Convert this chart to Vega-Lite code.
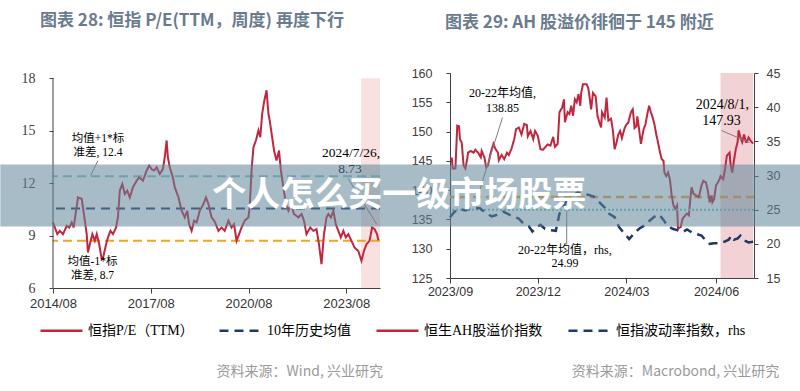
{
 "$schema": "https://vega.github.io/schema/vega-lite/v6.json",
 "background": "white",
 "padding": {"left": 0, "right": 0, "top": 12, "bottom": 0},
 "spacing": 70,
 "bounds": "flush",
 "config": {
  "view": {"stroke": null},
  "font": "Noto Sans CJK SC",
  "axis": {"grid": false, "domainColor": "#404040", "tickColor": "#404040", "labelColor": "#404040", "labelOverlap": false, "labelBound": false},
  "axisY": {"labelOverlap": false},
  "axisLeft": {"labelOverlap": false},
  "axisRight": {"labelOverlap": false},
  "axisQuantitative": {"labelOverlap": false}
 },
 "datasets": {
  "pe": [
   {"d":"2014-08-01","v":9.75},{"d":"2014-08-22","v":9.46},{"d":"2014-09-19","v":9.08},{"d":"2014-10-17","v":9.27},{"d":"2014-11-21","v":9.08},
   {"d":"2015-01-02","v":9.56},{"d":"2015-01-30","v":9.46},{"d":"2015-02-27","v":9.75},{"d":"2015-03-20","v":9.46},{"d":"2015-04-17","v":10.42},
   {"d":"2015-05-08","v":11.18},{"d":"2015-06-19","v":11.10},{"d":"2015-07-03","v":10.60},{"d":"2015-07-24","v":9.85},{"d":"2015-08-14","v":9.08},
   {"d":"2015-08-28","v":8.03},{"d":"2015-09-18","v":8.50},{"d":"2015-10-16","v":9.08},{"d":"2015-11-13","v":8.70},{"d":"2015-12-04","v":9.08},
   {"d":"2016-01-01","v":8.50},{"d":"2016-01-29","v":7.65},{"d":"2016-02-12","v":7.70},{"d":"2016-03-18","v":8.50},{"d":"2016-04-08","v":8.89},
   {"d":"2016-05-06","v":9.27},{"d":"2016-06-03","v":9.08},{"d":"2016-07-08","v":9.46},{"d":"2016-07-29","v":10.04},{"d":"2016-08-19","v":11.57},
   {"d":"2016-09-16","v":11.95},{"d":"2016-10-14","v":11.38},{"d":"2016-11-11","v":11.57},{"d":"2016-12-09","v":11.18},{"d":"2017-01-13","v":11.76},
   {"d":"2017-02-24","v":12.14},{"d":"2017-03-24","v":12.33},{"d":"2017-05-05","v":12.14},{"d":"2017-06-16","v":12.72},{"d":"2017-07-14","v":13.00},
   {"d":"2017-08-11","v":12.80},{"d":"2017-09-08","v":12.72},{"d":"2017-10-06","v":12.90},{"d":"2017-11-10","v":12.52},{"d":"2017-12-15","v":12.80},
   {"d":"2018-01-05","v":13.48},{"d":"2018-01-26","v":14.44},{"d":"2018-02-09","v":13.48},{"d":"2018-03-02","v":12.90},{"d":"2018-04-06","v":12.33},
   {"d":"2018-04-27","v":11.76},{"d":"2018-06-08","v":11.18},{"d":"2018-07-13","v":10.42},{"d":"2018-08-17","v":10.04},{"d":"2018-09-14","v":10.42},
   {"d":"2018-10-05","v":9.65},{"d":"2018-11-02","v":9.27},{"d":"2018-11-30","v":9.85},{"d":"2018-12-28","v":9.75},{"d":"2019-02-01","v":10.42},
   {"d":"2019-03-15","v":10.80},{"d":"2019-04-12","v":11.18},{"d":"2019-05-10","v":10.80},{"d":"2019-06-14","v":10.04},{"d":"2019-07-19","v":9.80},
   {"d":"2019-08-30","v":9.27},{"d":"2019-10-04","v":9.46},{"d":"2019-11-08","v":9.27},{"d":"2019-12-20","v":9.85},{"d":"2020-01-24","v":9.46},
   {"d":"2020-02-21","v":9.65},{"d":"2020-03-20","v":8.70},{"d":"2020-04-17","v":9.08},{"d":"2020-05-15","v":9.46},{"d":"2020-06-19","v":9.85},
   {"d":"2020-07-31","v":10.04},{"d":"2020-08-14","v":10.61},{"d":"2020-09-04","v":12.72},{"d":"2020-09-25","v":14.05},{"d":"2020-10-23","v":14.44},
   {"d":"2020-11-20","v":15.01},{"d":"2020-12-11","v":14.63},{"d":"2021-01-01","v":15.97},{"d":"2021-01-22","v":16.64},{"d":"2021-02-19","v":17.31},
   {"d":"2021-03-12","v":15.97},{"d":"2021-03-26","v":15.59},{"d":"2021-04-23","v":14.63},{"d":"2021-05-14","v":13.86},{"d":"2021-06-11","v":13.29},
   {"d":"2021-07-09","v":13.86},{"d":"2021-07-30","v":12.72},{"d":"2021-08-27","v":11.76},{"d":"2021-09-24","v":10.80},{"d":"2021-10-22","v":10.42},
   {"d":"2021-11-19","v":10.80},{"d":"2021-12-24","v":10.23},{"d":"2022-02-11","v":10.04},{"d":"2022-03-18","v":10.23},{"d":"2022-04-15","v":9.85},
   {"d":"2022-05-13","v":9.08},{"d":"2022-06-24","v":9.46},{"d":"2022-07-29","v":9.27},{"d":"2022-09-02","v":9.37},{"d":"2022-09-30","v":8.50},
   {"d":"2022-10-28","v":7.36},{"d":"2022-11-25","v":9.08},{"d":"2022-12-23","v":10.04},{"d":"2023-01-13","v":10.23},{"d":"2023-02-10","v":10.04},
   {"d":"2023-03-10","v":10.42},{"d":"2023-04-06","v":9.65},{"d":"2023-05-05","v":9.27},{"d":"2023-06-02","v":8.89},{"d":"2023-06-30","v":9.27},
   {"d":"2023-07-28","v":8.89},{"d":"2023-08-25","v":9.08},{"d":"2023-09-29","v":8.70},{"d":"2023-11-03","v":8.31},{"d":"2023-12-15","v":8.12},
   {"d":"2024-01-19","v":7.55},{"d":"2024-02-16","v":8.12},{"d":"2024-03-15","v":8.50},{"d":"2024-04-19","v":8.70},{"d":"2024-05-17","v":9.46},
   {"d":"2024-06-14","v":9.37},{"d":"2024-07-12","v":9.08},{"d":"2024-07-26","v":8.73}
  ],
  "annL": [
   {"d":"2015-12-18","v":14.52,"t":"均值+1*标","g":"s"},
   {"d":"2015-12-18","v":13.72,"t":"准差, 12.4","g":"s"},
   {"d":"2015-10-18","v":7.46,"t":"均值-1*标","g":"s"},
   {"d":"2015-10-18","v":6.66,"t":"准差, 8.7","g":"s"},
   {"d":"2023-09-24","v":13.74,"t":"2024/7/26,","g":"b"},
   {"d":"2023-09-12","v":12.82,"t":"8.73","g":"b"}
  ],
  "leadL": [
   {"d":"2015-12-18","v":13.29,"d2":"2015-09-28","v2":12.44},
   {"d":"2023-08-22","v":12.26,"d2":"2024-07-11","v2":9.63}
  ],
  "ah": [
   {"d":"2023-09-01","v":145.3},{"d":"2023-09-03","v":145.4},{"d":"2023-09-04","v":143.7},{"d":"2023-09-07","v":143.7},{"d":"2023-09-09","v":151.0},
   {"d":"2023-09-11","v":150.9},{"d":"2023-09-12","v":148.7},{"d":"2023-09-14","v":148.1},{"d":"2023-09-16","v":144.2},{"d":"2023-09-18","v":143.7},
   {"d":"2023-09-20","v":145.3},{"d":"2023-09-21","v":146.4},{"d":"2023-09-24","v":146.7},{"d":"2023-09-27","v":146.4},{"d":"2023-09-29","v":146.9},
   {"d":"2023-10-02","v":146.4},{"d":"2023-10-05","v":145.6},{"d":"2023-10-06","v":146.7},{"d":"2023-10-09","v":145.6},{"d":"2023-10-11","v":143.9},
   {"d":"2023-10-13","v":144.2},{"d":"2023-10-16","v":146.4},{"d":"2023-10-19","v":147.9},{"d":"2023-10-21","v":147.1},{"d":"2023-10-24","v":146.4},
   {"d":"2023-10-25","v":145.1},{"d":"2023-10-28","v":146.0},{"d":"2023-10-31","v":145.3},{"d":"2023-11-03","v":146.4},{"d":"2023-11-05","v":146.0},
   {"d":"2023-11-08","v":147.1},{"d":"2023-11-11","v":148.7},{"d":"2023-11-13","v":150.4},{"d":"2023-11-16","v":150.7},{"d":"2023-11-19","v":149.5},
   {"d":"2023-11-22","v":151.3},{"d":"2023-11-25","v":151.1},{"d":"2023-11-26","v":149.2},{"d":"2023-11-29","v":150.1},{"d":"2023-12-02","v":148.7},
   {"d":"2023-12-04","v":150.1},{"d":"2023-12-07","v":149.3},{"d":"2023-12-10","v":147.0},{"d":"2023-12-13","v":146.9},{"d":"2023-12-15","v":147.3},
   {"d":"2023-12-18","v":147.8},{"d":"2023-12-21","v":147.6},{"d":"2023-12-24","v":149.1},{"d":"2023-12-26","v":147.4},{"d":"2023-12-29","v":147.9},
   {"d":"2023-12-31","v":153.3},{"d":"2024-01-03","v":154.1},{"d":"2024-01-05","v":155.5},{"d":"2024-01-06","v":151.6},{"d":"2024-01-09","v":153.3},
   {"d":"2024-01-11","v":153.0},{"d":"2024-01-13","v":154.4},{"d":"2024-01-15","v":152.7},{"d":"2024-01-17","v":155.5},{"d":"2024-01-19","v":155.0},
   {"d":"2024-01-21","v":156.4},{"d":"2024-01-23","v":154.4},{"d":"2024-01-24","v":156.6},{"d":"2024-01-26","v":158.1},{"d":"2024-01-30","v":158.1},
   {"d":"2024-02-01","v":157.3},{"d":"2024-02-04","v":153.8},{"d":"2024-02-06","v":156.6},{"d":"2024-02-09","v":156.0},{"d":"2024-02-11","v":152.7},
   {"d":"2024-02-13","v":151.6},{"d":"2024-02-15","v":150.7},{"d":"2024-02-16","v":153.3},{"d":"2024-02-19","v":152.4},{"d":"2024-02-21","v":155.8},
   {"d":"2024-02-23","v":151.9},{"d":"2024-02-26","v":152.2},{"d":"2024-02-28","v":150.2},{"d":"2024-03-01","v":147.0},{"d":"2024-03-03","v":148.1},
   {"d":"2024-03-05","v":149.5},{"d":"2024-03-07","v":150.1},{"d":"2024-03-09","v":148.9},{"d":"2024-03-12","v":150.6},{"d":"2024-03-14","v":151.2},
   {"d":"2024-03-16","v":151.5},{"d":"2024-03-19","v":153.3},{"d":"2024-03-21","v":153.8},{"d":"2024-03-23","v":150.6},{"d":"2024-03-25","v":150.9},
   {"d":"2024-03-26","v":152.6},{"d":"2024-03-28","v":150.4},{"d":"2024-03-30","v":147.9},{"d":"2024-04-02","v":150.4},{"d":"2024-04-04","v":151.2},
   {"d":"2024-04-06","v":152.9},{"d":"2024-04-08","v":154.4},{"d":"2024-04-10","v":153.3},{"d":"2024-04-12","v":152.4},{"d":"2024-04-14","v":151.2},
   {"d":"2024-04-16","v":149.5},{"d":"2024-04-18","v":148.1},{"d":"2024-04-20","v":146.5},{"d":"2024-04-22","v":145.3},{"d":"2024-04-24","v":145.0},
   {"d":"2024-04-25","v":143.0},{"d":"2024-04-27","v":142.4},{"d":"2024-04-29","v":143.0},{"d":"2024-05-01","v":141.9},{"d":"2024-05-03","v":139.1},
   {"d":"2024-05-05","v":137.4},{"d":"2024-05-07","v":136.8},{"d":"2024-05-09","v":137.4},{"d":"2024-05-10","v":133.4},{"d":"2024-05-13","v":133.7},
   {"d":"2024-05-15","v":135.1},{"d":"2024-05-18","v":135.7},{"d":"2024-05-20","v":136.0},{"d":"2024-05-22","v":135.7},{"d":"2024-05-24","v":139.1},
   {"d":"2024-05-25","v":140.5},{"d":"2024-05-27","v":139.4},{"d":"2024-05-30","v":139.1},{"d":"2024-06-02","v":138.8},{"d":"2024-06-05","v":140.8},
   {"d":"2024-06-07","v":141.6},{"d":"2024-06-10","v":141.3},{"d":"2024-06-12","v":139.9},{"d":"2024-06-14","v":137.9},{"d":"2024-06-16","v":139.1},
   {"d":"2024-06-17","v":137.9},{"d":"2024-06-19","v":138.5},{"d":"2024-06-21","v":140.8},{"d":"2024-06-23","v":141.3},{"d":"2024-06-25","v":141.9},
   {"d":"2024-06-26","v":142.4},{"d":"2024-06-29","v":141.9},{"d":"2024-07-01","v":143.6},{"d":"2024-07-03","v":145.9},{"d":"2024-07-06","v":146.4},
   {"d":"2024-07-07","v":144.5},{"d":"2024-07-09","v":143.0},{"d":"2024-07-11","v":145.2},{"d":"2024-07-13","v":147.1},{"d":"2024-07-15","v":148.3},
   {"d":"2024-07-16","v":150.2},{"d":"2024-07-18","v":149.0},{"d":"2024-07-20","v":148.2},{"d":"2024-07-22","v":149.5},{"d":"2024-07-24","v":148.2},
   {"d":"2024-07-25","v":148.2},{"d":"2024-07-27","v":149.0},{"d":"2024-07-29","v":148.5},{"d":"2024-08-01","v":147.93}
  ],
  "vol": [
   {"d":"2023-09-01","v":23.9},{"d":"2023-09-06","v":24.7},{"d":"2023-09-12","v":25.1},{"d":"2023-09-18","v":24.9},{"d":"2023-09-25","v":25.3},
   {"d":"2023-10-04","v":25.2},{"d":"2023-10-10","v":24.6},{"d":"2023-10-17","v":24.0},{"d":"2023-10-24","v":24.3},{"d":"2023-10-30","v":24.7},
   {"d":"2023-11-05","v":24.3},{"d":"2023-11-10","v":24.0},{"d":"2023-11-16","v":23.7},{"d":"2023-11-21","v":23.0},{"d":"2023-11-27","v":22.6},
   {"d":"2023-12-01","v":21.8},{"d":"2023-12-06","v":22.5},{"d":"2023-12-10","v":22.8},{"d":"2023-12-15","v":22.2},{"d":"2023-12-21","v":22.0},
   {"d":"2023-12-27","v":21.9},{"d":"2023-12-31","v":24.4},{"d":"2024-01-05","v":25.6},{"d":"2024-01-09","v":26.5},{"d":"2024-01-15","v":27.1},
   {"d":"2024-01-20","v":27.5},{"d":"2024-01-26","v":27.4},{"d":"2024-01-31","v":27.2},{"d":"2024-02-07","v":26.9},{"d":"2024-02-13","v":26.1},
   {"d":"2024-02-19","v":25.3},{"d":"2024-02-24","v":24.4},{"d":"2024-03-01","v":23.9},{"d":"2024-03-06","v":22.4},{"d":"2024-03-12","v":21.5},
   {"d":"2024-03-17","v":20.7},{"d":"2024-03-23","v":21.6},{"d":"2024-03-28","v":22.2},{"d":"2024-04-03","v":22.7},{"d":"2024-04-08","v":23.3},
   {"d":"2024-04-14","v":24.0},{"d":"2024-04-19","v":24.3},{"d":"2024-04-24","v":23.5},{"d":"2024-04-28","v":22.7},{"d":"2024-05-04","v":22.2},
   {"d":"2024-05-09","v":22.0},{"d":"2024-05-15","v":21.7},{"d":"2024-05-20","v":22.1},{"d":"2024-05-26","v":21.6},{"d":"2024-05-31","v":21.4},
   {"d":"2024-06-05","v":21.2},{"d":"2024-06-09","v":20.6},{"d":"2024-06-14","v":20.0},{"d":"2024-06-19","v":20.1},{"d":"2024-06-25","v":20.1},
   {"d":"2024-06-30","v":20.3},{"d":"2024-07-05","v":20.6},{"d":"2024-07-08","v":21.2},{"d":"2024-07-11","v":20.6},{"d":"2024-07-15","v":20.8},
   {"d":"2024-07-18","v":21.2},{"d":"2024-07-22","v":20.5},{"d":"2024-07-27","v":20.2},{"d":"2024-08-01","v":20.3}
  ],
  "annR": [
   {"d":"2023-10-29","v":156.59,"t":"20-22年均值,","g":"s"},
   {"d":"2023-10-29","v":153.94,"t":"138.85","g":"s"},
   {"d":"2024-01-06","v":129.70,"t":"20-22年均值，rhs,","g":"s"},
   {"d":"2024-01-06","v":127.50,"t":"24.99","g":"s"},
   {"d":"2024-06-28","v":154.62,"t":"2024/8/1,","g":"b"},
   {"d":"2024-06-27","v":151.89,"t":"147.93","g":"b"}
  ],
  "leadR": [
   {"d":"2023-10-29","v":152.40,"d2":"2023-10-02","v2":139.08},
   {"d":"2024-01-08","v":130.70,"d2":"2024-01-08","v2":136.52},
   {"d":"2024-06-27","v":150.18,"d2":"2024-07-28","v2":148.13}
  ]
 },
 "hconcat": [
  {
   "width": 327,
   "height": 215,
   "title": {"text": "图表 28: 恒指 P/E(TTM，周度)  再度下行", "anchor": "start", "frame": "group", "dx": -13, "offset": 41, "fontSize": 17, "font": "Noto Sans CJK SC", "fontWeight": "bold", "color": "#6a7b8e"},
   "layer": [
    {"data": {"values": [{}]}, "mark": {"type": "rect", "fill": "#f9e0e1"},
     "encoding": {
      "x": {"datum": {"year": 2024, "month": 1, "date": 15}, "type": "temporal", "title": null, "scale": {"domain": [{"year": 2014, "month": 8, "date": 1}, {"year": 2024, "month": 8, "date": 14}], "nice": false}},
      "x2": {"datum": {"year": 2024, "month": 8, "date": 14}},
      "y": {"datum": 6, "type": "quantitative", "title": null, "scale": {"domain": [6, 18.3], "nice": false, "zero": false}},
      "y2": {"datum": 18}}},
    {"data": {"values": [{}]}, "mark": {"type": "rule", "stroke": "#7cc4cc", "strokeWidth": 2, "strokeDash": [9, 5]},
     "encoding": {"y": {"datum": 12.4, "type": "quantitative", "title": null, "scale": {"domain": [6, 18.3], "nice": false, "zero": false}}}},
    {"data": {"values": [{}]}, "mark": {"type": "rule", "stroke": "#eea52f", "strokeWidth": 2, "strokeDash": [9, 5]},
     "encoding": {"y": {"datum": 8.7, "type": "quantitative", "title": null, "scale": {"domain": [6, 18.3], "nice": false, "zero": false}}}},
    {"data": {"values": [{}]}, "mark": {"type": "rule", "strokeWidth": 2},
     "encoding": {
      "y": {"datum": 10.55, "type": "quantitative", "title": null, "scale": {"domain": [6, 18.3], "nice": false, "zero": false}},
      "color": {"datum": "10年历史均值", "type": "nominal", "scale": {"domain": ["恒指P/E（TTM）", "10年历史均值"], "range": ["#c0273e", "#1f3864"]},
        "legend": {"orient": "none", "legendX": -14, "legendY": 235, "direction": "horizontal", "title": null, "symbolType": "stroke", "symbolSize": 1764, "symbolStrokeWidth": 2.5, "labelFont": "Liberation Serif, Noto Sans CJK SC", "labelFontSize": 14, "labelColor": "#000000", "labelOffset": 4, "columnPadding": 20}},
      "strokeDash": {"datum": "10年历史均值", "type": "nominal", "scale": {"domain": ["恒指P/E（TTM）", "10年历史均值"], "range": [[1, 0], [9, 6]]},
        "legend": {"orient": "none", "legendX": -14, "legendY": 235, "direction": "horizontal", "title": null, "symbolType": "stroke", "symbolSize": 1764, "symbolStrokeWidth": 2.5, "labelFont": "Liberation Serif, Noto Sans CJK SC", "labelFontSize": 14, "labelColor": "#000000", "labelOffset": 4, "columnPadding": 20}}}},
    {"data": {"name": "pe"}, "mark": {"type": "line", "strokeWidth": 2},
     "encoding": {
      "x": {"field": "d", "type": "temporal", "title": null, "scale": {"domain": [{"year": 2014, "month": 8, "date": 1}, {"year": 2024, "month": 8, "date": 14}], "nice": false},
        "axis": {"values": [{"year": 2014, "month": 8, "date": 1}, {"year": 2017, "month": 8, "date": 1}, {"year": 2020, "month": 8, "date": 1}, {"year": 2023, "month": 8, "date": 1}], "format": "%Y/%m", "labelFont": "Liberation Sans", "labelFontSize": 13, "tickSize": 5, "labelPadding": 4, "labelFlush": false, "labelOverlap": false, "labelColor": "#333333"}},
      "y": {"field": "v", "type": "quantitative", "title": null, "scale": {"domain": [6, 18.3], "nice": false, "zero": false},
        "axis": {"values": [6, 9, 12, 15, 18], "domain": false, "labelFont": "Liberation Serif", "labelFontSize": 14, "tickSize": 4, "labelPadding": 14, "labelOverlap": false}},
      "color": {"datum": "恒指P/E（TTM）", "type": "nominal", "scale": {"domain": ["恒指P/E（TTM）", "10年历史均值"], "range": ["#c0273e", "#1f3864"]},
        "legend": {"orient": "none", "legendX": -14, "legendY": 235, "direction": "horizontal", "title": null, "symbolType": "stroke", "symbolSize": 1764, "symbolStrokeWidth": 2.5, "labelFont": "Liberation Serif, Noto Sans CJK SC", "labelFontSize": 14, "labelColor": "#000000", "labelOffset": 4, "columnPadding": 20}},
      "strokeDash": {"datum": "恒指P/E（TTM）", "type": "nominal", "scale": {"domain": ["恒指P/E（TTM）", "10年历史均值"], "range": [[1, 0], [9, 6]]},
        "legend": {"orient": "none", "legendX": -14, "legendY": 235, "direction": "horizontal", "title": null, "symbolType": "stroke", "symbolSize": 1764, "symbolStrokeWidth": 2.5, "labelFont": "Liberation Serif, Noto Sans CJK SC", "labelFontSize": 14, "labelColor": "#000000", "labelOffset": 4, "columnPadding": 20}}}},
    {"data": {"values": [{}]}, "mark": {"type": "rule", "stroke": "#404040", "strokeWidth": 1},
     "encoding": {
      "x": {"datum": {"year": 2014, "month": 8, "date": 1}, "type": "temporal", "title": null, "scale": {"domain": [{"year": 2014, "month": 8, "date": 1}, {"year": 2024, "month": 8, "date": 14}], "nice": false}},
      "y": {"datum": 6, "type": "quantitative", "title": null, "scale": {"domain": [6, 18.3], "nice": false, "zero": false}},
      "y2": {"datum": 18}}},
    {"data": {"name": "leadL"}, "mark": {"type": "rule", "stroke": "#7f7f7f", "strokeWidth": 1},
     "encoding": {
      "x": {"field": "d", "type": "temporal", "title": null, "scale": {"domain": [{"year": 2014, "month": 8, "date": 1}, {"year": 2024, "month": 8, "date": 14}], "nice": false}},
      "y": {"field": "v", "type": "quantitative", "title": null, "scale": {"domain": [6, 18.3], "nice": false, "zero": false}},
      "x2": {"field": "d2"}, "y2": {"field": "v2"}}},
    {"data": {"name": "annL"}, "transform": [{"filter": "datum.g == 's'"}],
     "mark": {"type": "text", "font": "Liberation Serif, Noto Sans CJK SC", "fontSize": 11.5, "color": "#000000", "align": "center", "baseline": "middle"},
     "encoding": {
      "x": {"field": "d", "type": "temporal", "title": null, "scale": {"domain": [{"year": 2014, "month": 8, "date": 1}, {"year": 2024, "month": 8, "date": 14}], "nice": false}},
      "y": {"field": "v", "type": "quantitative", "title": null, "scale": {"domain": [6, 18.3], "nice": false, "zero": false}},
      "text": {"field": "t"}}},
    {"data": {"name": "annL"}, "transform": [{"filter": "datum.g == 'b'"}],
     "mark": {"type": "text", "font": "Liberation Serif, Noto Sans CJK SC", "fontSize": 13.5, "color": "#000000", "align": "center", "baseline": "middle"},
     "encoding": {
      "x": {"field": "d", "type": "temporal", "title": null, "scale": {"domain": [{"year": 2014, "month": 8, "date": 1}, {"year": 2024, "month": 8, "date": 14}], "nice": false}},
      "y": {"field": "v", "type": "quantitative", "title": null, "scale": {"domain": [6, 18.3], "nice": false, "zero": false}},
      "text": {"field": "t"}}},
    {"data": {"values": [{}]},
     "mark": {"type": "text", "text": "资料来源：Wind, 兴业研究", "font": "Noto Sans CJK SC", "fontSize": 14, "color": "#9a9a9a", "align": "right", "baseline": "middle"},
     "encoding": {
      "x": {"datum": {"year": 2024, "month": 9, "date": 16}, "type": "temporal", "title": null, "scale": {"domain": [{"year": 2014, "month": 8, "date": 1}, {"year": 2024, "month": 8, "date": 14}], "nice": false}},
      "y": {"datum": 1.22, "type": "quantitative", "title": null, "scale": {"domain": [6, 18.3], "nice": false, "zero": false}}}}
   ]
  },
  {
   "width": 304,
   "height": 205,
   "title": {"text": "图表 29: AH 股溢价徘徊于 145 附近", "anchor": "start", "frame": "group", "dx": -5, "offset": 35, "fontSize": 17, "font": "Noto Sans CJK SC", "fontWeight": "bold", "color": "#6a7b8e"},
   "resolve": {"scale": {"y": "independent"}},
   "layer": [
    {
     "layer": [
      {"data": {"values": [{}]}, "mark": {"type": "rect", "fill": "#f3d2d5"},
       "encoding": {
        "x": {"datum": {"year": 2024, "month": 6, "date": 26}, "type": "temporal", "title": null, "scale": {"domain": [{"year": 2023, "month": 9, "date": 1}, {"year": 2024, "month": 8, "date": 2}], "nice": false}},
        "x2": {"datum": {"year": 2024, "month": 8, "date": 1}},
        "y": {"datum": 125, "type": "quantitative", "title": null, "scale": {"domain": [125, 160], "nice": false, "zero": false}, "axis": {"values": [125, 130, 135, 140, 145, 150, 155, 160], "labelFont": "Liberation Sans", "labelFontSize": 12.5, "tickSize": 4, "labelPadding": 14, "labelOverlap": false}},
        "y2": {"datum": 160}}},
      {"data": {"values": [{}]}, "mark": {"type": "rule", "stroke": "#eea52f", "strokeWidth": 2.5, "strokeDash": [8, 5]},
       "encoding": {"y": {"datum": 138.85, "type": "quantitative", "title": null, "scale": {"domain": [125, 160], "nice": false, "zero": false}, "axis": {"values": [125, 130, 135, 140, 145, 150, 155, 160], "labelFont": "Liberation Sans", "labelFontSize": 12.5, "tickSize": 4, "labelPadding": 14, "labelOverlap": false}}}},
      {"data": {"name": "ah"}, "mark": {"type": "line", "strokeWidth": 2},
       "encoding": {
        "x": {"field": "d", "type": "temporal", "title": null, "scale": {"domain": [{"year": 2023, "month": 9, "date": 1}, {"year": 2024, "month": 8, "date": 2}], "nice": false},
          "axis": {"values": [{"year": 2023, "month": 9, "date": 1}, {"year": 2023, "month": 12, "date": 7}, {"year": 2024, "month": 3, "date": 14}, {"year": 2024, "month": 6, "date": 21}], "format": "%Y/%m", "labelFont": "Liberation Sans", "labelFontSize": 12.5, "tickSize": 5, "labelPadding": 2, "labelFlush": false, "labelOverlap": false, "labelColor": "#333333"}},
        "y": {"field": "v", "type": "quantitative", "title": null, "scale": {"domain": [125, 160], "nice": false, "zero": false},
          "axis": {"values": [125, 130, 135, 140, 145, 150, 155, 160], "labelFont": "Liberation Sans", "labelFontSize": 12.5, "tickSize": 4, "labelPadding": 14, "labelOverlap": false}},
        "color": {"datum": "恒生AH股溢价指数", "type": "nominal", "scale": {"domain": ["恒生AH股溢价指数", "恒指波动率指数，rhs"], "range": ["#c0273e", "#1f3864"]},
          "legend": {"orient": "none", "legendX": -33, "legendY": 230, "direction": "horizontal", "title": null, "symbolType": "stroke", "symbolSize": 1764, "symbolStrokeWidth": 2.5, "labelFont": "Liberation Serif, Noto Sans CJK SC", "labelFontSize": 14, "labelColor": "#000000", "labelOffset": 4, "columnPadding": 6}},
        "strokeDash": {"datum": "恒生AH股溢价指数", "type": "nominal", "scale": {"domain": ["恒生AH股溢价指数", "恒指波动率指数，rhs"], "range": [[1, 0], [8, 6]]},
          "legend": {"orient": "none", "legendX": -33, "legendY": 230, "direction": "horizontal", "title": null, "symbolType": "stroke", "symbolSize": 1764, "symbolStrokeWidth": 2.5, "labelFont": "Liberation Serif, Noto Sans CJK SC", "labelFontSize": 14, "labelColor": "#000000", "labelOffset": 4, "columnPadding": 6}}}},
      {"data": {"name": "leadR"}, "mark": {"type": "rule", "stroke": "#7f7f7f", "strokeWidth": 1},
       "encoding": {
        "x": {"field": "d", "type": "temporal", "title": null, "scale": {"domain": [{"year": 2023, "month": 9, "date": 1}, {"year": 2024, "month": 8, "date": 2}], "nice": false}},
        "y": {"field": "v", "type": "quantitative", "title": null, "scale": {"domain": [125, 160], "nice": false, "zero": false}, "axis": {"values": [125, 130, 135, 140, 145, 150, 155, 160], "labelFont": "Liberation Sans", "labelFontSize": 12.5, "tickSize": 4, "labelPadding": 14, "labelOverlap": false}},
        "x2": {"field": "d2"}, "y2": {"field": "v2"}}},
      {"data": {"name": "annR"}, "transform": [{"filter": "datum.g == 's'"}],
       "mark": {"type": "text", "font": "Liberation Serif, Noto Sans CJK SC", "fontSize": 12, "color": "#000000", "align": "center", "baseline": "middle"},
       "encoding": {
        "x": {"field": "d", "type": "temporal", "title": null, "scale": {"domain": [{"year": 2023, "month": 9, "date": 1}, {"year": 2024, "month": 8, "date": 2}], "nice": false}},
        "y": {"field": "v", "type": "quantitative", "title": null, "scale": {"domain": [125, 160], "nice": false, "zero": false}, "axis": {"values": [125, 130, 135, 140, 145, 150, 155, 160], "labelFont": "Liberation Sans", "labelFontSize": 12.5, "tickSize": 4, "labelPadding": 14, "labelOverlap": false}},
        "text": {"field": "t"}}},
      {"data": {"name": "annR"}, "transform": [{"filter": "datum.g == 'b'"}],
       "mark": {"type": "text", "font": "Liberation Serif, Noto Sans CJK SC", "fontSize": 14, "color": "#000000", "align": "center", "baseline": "middle"},
       "encoding": {
        "x": {"field": "d", "type": "temporal", "title": null, "scale": {"domain": [{"year": 2023, "month": 9, "date": 1}, {"year": 2024, "month": 8, "date": 2}], "nice": false}},
        "y": {"field": "v", "type": "quantitative", "title": null, "scale": {"domain": [125, 160], "nice": false, "zero": false}, "axis": {"values": [125, 130, 135, 140, 145, 150, 155, 160], "labelFont": "Liberation Sans", "labelFontSize": 12.5, "tickSize": 4, "labelPadding": 14, "labelOverlap": false}},
        "text": {"field": "t"}}},
      {"data": {"values": [{}]},
       "mark": {"type": "text", "text": "资料来源：Macrobond, 兴业研究", "font": "Noto Sans CJK SC", "fontSize": 14, "color": "#9a9a9a", "align": "right", "baseline": "middle"},
       "encoding": {
        "x": {"datum": {"year": 2024, "month": 8, "date": 30}, "type": "temporal", "title": null, "scale": {"domain": [{"year": 2023, "month": 9, "date": 1}, {"year": 2024, "month": 8, "date": 2}], "nice": false}},
        "y": {"datum": 109.03, "type": "quantitative", "title": null, "scale": {"domain": [125, 160], "nice": false, "zero": false}, "axis": {"values": [125, 130, 135, 140, 145, 150, 155, 160], "labelFont": "Liberation Sans", "labelFontSize": 12.5, "tickSize": 4, "labelPadding": 14, "labelOverlap": false}}}}
     ]
    },
    {
     "layer": [
      {"data": {"values": [{}]}, "mark": {"type": "rule", "stroke": "#6cc5cf", "strokeWidth": 2, "strokeDash": [2, 2]},
       "encoding": {"y": {"datum": 24.99, "type": "quantitative", "title": null, "scale": {"domain": [15, 45], "nice": false, "zero": false}, "axis": {"values": [15, 20, 25, 30, 35, 40, 45], "labelFont": "Liberation Sans", "labelFontSize": 12.5, "tickSize": 4, "labelPadding": 8, "labelOverlap": false}}}},
      {"data": {"name": "vol"}, "mark": {"type": "line", "strokeWidth": 2.5},
       "encoding": {
        "x": {"field": "d", "type": "temporal", "title": null, "scale": {"domain": [{"year": 2023, "month": 9, "date": 1}, {"year": 2024, "month": 8, "date": 2}], "nice": false}},
        "y": {"field": "v", "type": "quantitative", "title": null, "scale": {"domain": [15, 45], "nice": false, "zero": false},
          "axis": {"values": [15, 20, 25, 30, 35, 40, 45], "labelFont": "Liberation Sans", "labelFontSize": 12.5, "tickSize": 4, "labelPadding": 8, "labelOverlap": false}},
        "color": {"datum": "恒指波动率指数，rhs", "type": "nominal", "scale": {"domain": ["恒生AH股溢价指数", "恒指波动率指数，rhs"], "range": ["#c0273e", "#1f3864"]},
          "legend": {"orient": "none", "legendX": -33, "legendY": 230, "direction": "horizontal", "title": null, "symbolType": "stroke", "symbolSize": 1764, "symbolStrokeWidth": 2.5, "labelFont": "Liberation Serif, Noto Sans CJK SC", "labelFontSize": 14, "labelColor": "#000000", "labelOffset": 4, "columnPadding": 6}},
        "strokeDash": {"datum": "恒指波动率指数，rhs", "type": "nominal", "scale": {"domain": ["恒生AH股溢价指数", "恒指波动率指数，rhs"], "range": [[1, 0], [8, 6]]},
          "legend": {"orient": "none", "legendX": -33, "legendY": 230, "direction": "horizontal", "title": null, "symbolType": "stroke", "symbolSize": 1764, "symbolStrokeWidth": 2.5, "labelFont": "Liberation Serif, Noto Sans CJK SC", "labelFontSize": 14, "labelColor": "#000000", "labelOffset": 4, "columnPadding": 6}}}},
      {"data": {"values": [{}]}, "mark": {"type": "rect", "fill": "#5f8599", "fillOpacity": 0.55},
       "encoding": {
        "x": {"datum": {"year": 2022, "month": 4, "date": 22}, "type": "temporal", "title": null, "scale": {"domain": [{"year": 2023, "month": 9, "date": 1}, {"year": 2024, "month": 8, "date": 2}], "nice": false}},
        "x2": {"datum": {"year": 2024, "month": 9, "date": 22}},
        "y": {"datum": 31.61, "type": "quantitative", "title": null, "scale": {"domain": [15, 45], "nice": false, "zero": false}, "axis": {"values": [15, 20, 25, 30, 35, 40, 45], "labelFont": "Liberation Sans", "labelFontSize": 12.5, "tickSize": 4, "labelPadding": 8, "labelOverlap": false}},
        "y2": {"datum": 22.54}}},
      {"data": {"values": [{}]},
       "mark": {"type": "text", "text": "个人怎么买一级市场股票", "font": "Noto Sans CJK SC", "fontSize": 34, "fontWeight": "bold", "color": "#ffffff", "align": "center", "baseline": "middle"},
       "encoding": {
        "x": {"datum": {"year": 2023, "month": 7, "date": 7}, "type": "temporal", "title": null, "scale": {"domain": [{"year": 2023, "month": 9, "date": 1}, {"year": 2024, "month": 8, "date": 2}], "nice": false}},
        "y": {"datum": 27.0, "type": "quantitative", "title": null, "scale": {"domain": [15, 45], "nice": false, "zero": false}, "axis": {"values": [15, 20, 25, 30, 35, 40, 45], "labelFont": "Liberation Sans", "labelFontSize": 12.5, "tickSize": 4, "labelPadding": 8, "labelOverlap": false}}}}
     ]
    }
   ]
  }
 ]
}
